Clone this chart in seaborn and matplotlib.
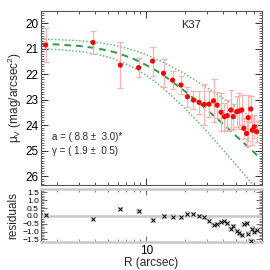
import numpy as np
import pandas as pd
import matplotlib
matplotlib.use("Agg")
import matplotlib.pyplot as plt
from matplotlib.ticker import LogLocator, MultipleLocator, NullFormatter, FixedLocator, FixedFormatter
import seaborn as sns

# ---- data ----
R = [1.63, 3.83, 6.26, 8.71, 11.2, 13.65, 16.05, 18.7, 21.0, 23.4, 25.9, 28.5, 31.0,
     33.6, 35.9, 38.5, 40.9, 43.1, 45.9, 48.0, 51.0, 53.2, 55.9, 62.8, 65.7, 58.0,
     61.0, 67.6, 70.1, 73.2]
mu = [20.86, 20.76, 21.65, 21.75, 21.49, 21.97, 22.24, 22.43, 22.89, 23.02, 23.11, 23.19, 23.18,
      23.05, 23.22, 23.50, 23.67, 23.63, 23.41, 23.67, 23.48, 23.45, 23.41, 23.71, 23.37, 24.13,
      24.33, 24.20, 24.07, 24.26]
mu_err = [0.67, 0.46, 0.90, 0.37, 0.57, 0.55, 0.36, 0.35, 0.39, 0.36, 0.45, 0.80, 0.50,
          0.85, 0.50, 0.75, 0.55, 0.60, 0.80, 0.50, 0.60, 0.70, 0.60, 0.90, 0.50, 0.40,
          0.50, 0.60, 0.45, 0.40]
resid = [0.06, -0.17, 0.44, 0.30, -0.29, -0.03, -0.05, -0.08, 0.15, 0.09, -0.01, -0.10, -0.31,
         -0.56, -0.53, -0.39, -0.33, -0.47, -0.82, -0.65, -0.97, -1.08, -1.22, -1.15, -1.58, -0.55,
         -0.47, -0.81, -1.01, -0.91]

# fitted profile and envelopes
R_fit = [1.5, 2, 3, 4, 5, 6, 8, 10, 12, 15, 20, 25, 30, 40, 50, 60, 70, 80]
mu_fit = [20.82, 20.84, 20.90, 20.98, 21.08, 21.18, 21.41, 21.65, 21.87, 22.20, 22.67, 23.06,
          23.41, 23.96, 24.41, 24.77, 25.08, 25.36]
mu_upper = [20.63, 20.65, 20.69, 20.75, 20.82, 20.90, 21.07, 21.24, 21.41, 21.65, 21.99, 22.29,
            22.54, 22.95, 23.27, 23.54, 23.77, 23.97]
mu_lower = [21.01, 21.04, 21.11, 21.21, 21.33, 21.47, 21.75, 22.05, 22.34, 22.75, 23.34, 23.84,
            24.27, 24.98, 25.54, 26.00, 26.39, 26.74]

y_ticks = [20, 21, 22, 23, 24, 25, 26]
res_ticks = [1.5, 1.0, 0.5, 0.0, -0.5, -1.0, -1.5]
res_labels = ["1.5", "1.0", "0.5", "0.0", "\u22120.5", "\u22121.0", "\u22121.5"]
label_name = "K37"
txt_a = "a = ( 8.8 \u00b1  3.0)*"
txt_g = "\u03b3 = ( 1.9 \u00b1  0.5)"

sns.set_style("ticks")
plt.rcParams['font.family'] = ['Liberation Sans', 'DejaVu Sans']
plt.rcParams['mathtext.fontset'] = 'custom'
plt.rcParams['mathtext.rm'] = 'Liberation Sans'
plt.rcParams['mathtext.it'] = 'Liberation Sans'

df = pd.DataFrame({"R": R, "mu": mu, "err": mu_err, "res": resid})
fit = pd.DataFrame({"R": R_fit, "mid": mu_fit, "up": mu_upper, "lo": mu_lower})

fig = plt.figure(figsize=(2.7, 2.7), dpi=100)
ax = fig.add_axes([0.152, 0.315, 0.817, 0.644])
axr = fig.add_axes([0.152, 0.102, 0.817, 0.198])

xlim = (1.5, 80)
dash_c = "#2f9a46"
dot_c = "#4cb35e"

# main panel
sns.lineplot(data=fit, x="R", y="up", ax=ax, color=dot_c, lw=1.0, ls=(0, (1, 1.5)), sort=False)
sns.lineplot(data=fit, x="R", y="lo", ax=ax, color=dot_c, lw=1.0, ls=(0, (1, 1.5)), sort=False)
sns.lineplot(data=fit, x="R", y="mid", ax=ax, color=dash_c, lw=1.4, ls=(0, (3.5, 2.5)), sort=False)
ax.errorbar(df["R"], df["mu"], yerr=df["err"], fmt="none", ecolor="#ffb0b0",
            elinewidth=0.9, capsize=2, capthick=0.9, zorder=3)
sns.scatterplot(data=df, x="R", y="mu", ax=ax, color="#ff0000", s=14, edgecolor="none",
                zorder=4, legend=False)

ax.set_xscale("log")
ax.set_xlim(*xlim)
ax.set_ylim(26.35, 19.53)
ax.set_yticks(y_ticks)
ax.yaxis.set_minor_locator(MultipleLocator(0.1))
ax.xaxis.set_major_locator(FixedLocator([10]))
ax.xaxis.set_minor_locator(LogLocator(base=10, subs=np.arange(2, 10)))
ax.xaxis.set_major_formatter(NullFormatter())
ax.xaxis.set_minor_formatter(NullFormatter())
ax.tick_params(axis="both", which="both", direction="in", top=True, right=True, colors="#333333",
               labelcolor="black")
ax.tick_params(axis="y", which="major", length=5, width=0.7, labelsize=8.5, pad=2)
ax.tick_params(axis="y", which="minor", length=2, width=0.5)
ax.tick_params(axis="x", which="major", length=5, width=0.7)
ax.tick_params(axis="x", which="minor", length=2.5, width=0.6)
for s in ax.spines.values():
    s.set_color("#555555")
    s.set_linewidth(0.8)
ax.set_xlabel("")
ax.set_ylabel("\u03bc$_V$ (mag/arcsec$^2$)", fontsize=8.5, labelpad=1)
ax.text(0.68, 0.92, label_name, transform=ax.transAxes, fontsize=8, ha="center", va="center")
ax.text(0.05, 0.275, txt_a, transform=ax.transAxes, fontsize=7, ha="left", va="center")
ax.text(0.05, 0.195, txt_g, transform=ax.transAxes, fontsize=7, ha="left", va="center")

# residual panel
axr.axhline(0, color="#c8c8c8", lw=1.8, zorder=1)
sns.scatterplot(data=df, x="R", y="res", ax=axr, color="#d4d4d4", marker="s", s=12,
                edgecolor="none", zorder=2, legend=False)
sns.scatterplot(data=df, x="R", y="res", ax=axr, color="black", marker="x", s=8,
                linewidth=0.7, zorder=3, legend=False)
axr.set_xscale("log")
axr.set_xlim(*xlim)
axr.set_ylim(-1.7, 1.72)
axr.yaxis.set_major_locator(FixedLocator(res_ticks))
axr.yaxis.set_major_formatter(FixedFormatter(res_labels))
axr.yaxis.set_minor_locator(MultipleLocator(0.1))
axr.xaxis.set_major_locator(FixedLocator([10]))
axr.xaxis.set_major_formatter(FixedFormatter(["10"]))
axr.xaxis.set_minor_locator(LogLocator(base=10, subs=np.arange(2, 10)))
axr.xaxis.set_minor_formatter(NullFormatter())
axr.tick_params(axis="both", which="both", direction="in", top=True, right=True, colors="#555555",
                labelcolor="black")
axr.tick_params(axis="y", which="major", length=4, width=0.6, labelsize=6, pad=1.5)
axr.tick_params(axis="y", which="minor", length=2, width=0.5)
axr.tick_params(axis="x", which="major", length=4, width=0.6, labelsize=8.5, pad=1.5)
axr.tick_params(axis="x", which="minor", length=2, width=0.5)
for k in ("top", "bottom"):
    axr.spines[k].set_color("#c8c8c8")
    axr.spines[k].set_linewidth(1.8)
for k in ("left", "right"):
    axr.spines[k].set_color("#555555")
    axr.spines[k].set_linewidth(0.8)
axr.set_xlabel("R (arcsec)", fontsize=8.5, labelpad=0)
axr.set_ylabel("residuals", fontsize=8.5, labelpad=2)

fig.savefig("out.png", dpi=100)
